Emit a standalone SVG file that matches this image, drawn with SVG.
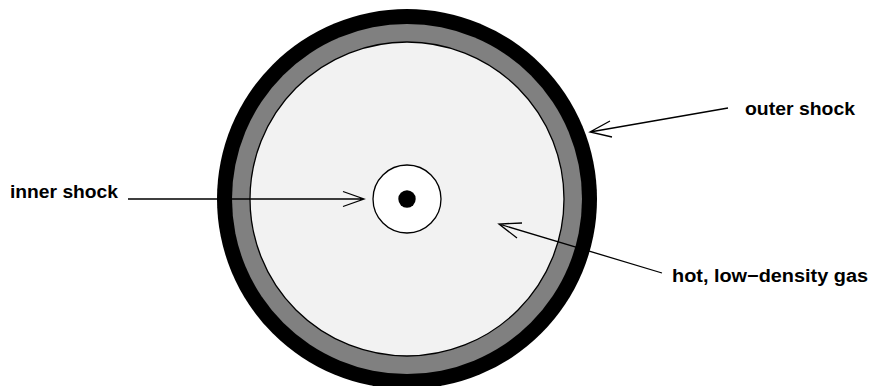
<svg xmlns="http://www.w3.org/2000/svg" width="869" height="386" viewBox="0 0 869 386">
<style>
.lbl{font-family:"Liberation Sans",Arial,sans-serif;font-weight:bold;font-size:18px;fill:#000}
.ln{fill:none;stroke:#000;stroke-width:1.3}
</style>
<rect width="869" height="386" fill="#fff"/>
<g id="shell">
<circle cx="407" cy="199" r="190" fill="#000"/>
<circle cx="407" cy="199" r="175" fill="#808080"/>
<circle cx="407" cy="199" r="157" fill="#f2f2f2" stroke="#000" stroke-width="1.3"/>
</g>
<g id="core">
<circle cx="407" cy="199" r="34" fill="#fff" stroke="#000" stroke-width="1.3"/>
<circle cx="407" cy="199" r="8.7" fill="#000"/>
</g>
<g id="connectors">
<path class="ln" d="M128 199 H364 M343 191.5 L364 199 L343 206.5"/>
<path class="ln" d="M728 108 L590 132 M610 121 L590 132 L612 137"/>
<path class="ln" d="M662 273 L499 224 M522 223 L499 224 L517 238"/>
</g>
<g id="label-inner"><text class="lbl" x="10" y="198" textLength="108" lengthAdjust="spacingAndGlyphs">inner shock</text></g>
<g id="label-outer"><text class="lbl" x="745" y="115" textLength="110" lengthAdjust="spacingAndGlyphs">outer shock</text></g>
<g id="label-gas"><text class="lbl" x="672" y="281.5" textLength="196" lengthAdjust="spacingAndGlyphs">hot, low−density gas</text></g>
</svg>
